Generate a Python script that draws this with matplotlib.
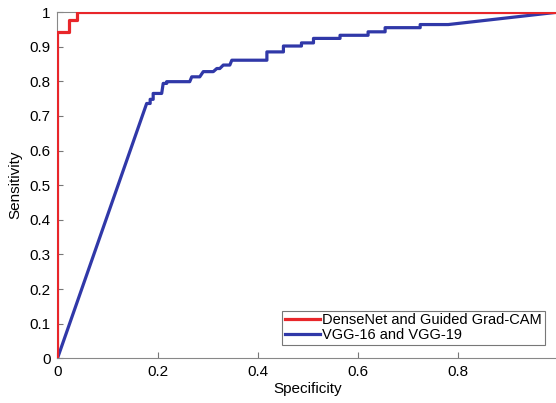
import matplotlib
matplotlib.use("Agg")
import matplotlib.pyplot as plt

plt.rcParams['font.family'] = ['Liberation Sans', 'DejaVu Sans']

# ROC vertices (specificity axis as drawn, sensitivity)
dense_x = [0, 0, 0.0236, 0.0236, 0.0395, 0.0395, 1.0]
dense_y = [0, 0.943, 0.943, 0.977, 0.977, 1.0, 1.0]

vgg_x = [0, 0.178, 0.185, 0.185, 0.191, 0.191, 0.208, 0.211, 0.218, 0.218,
         0.264, 0.268, 0.284, 0.291, 0.311, 0.318, 0.324, 0.331, 0.344, 0.348,
         0.418, 0.418, 0.451, 0.451, 0.487, 0.487, 0.511, 0.511, 0.564, 0.564,
         0.620, 0.620, 0.654, 0.654, 0.724, 0.724, 0.780, 1.0]
vgg_y = [0, 0.736, 0.736, 0.748, 0.748, 0.765, 0.765, 0.794, 0.794, 0.799,
         0.799, 0.813, 0.813, 0.828, 0.828, 0.837, 0.837, 0.847, 0.847, 0.861,
         0.861, 0.885, 0.885, 0.902, 0.902, 0.911, 0.911, 0.924, 0.924, 0.933,
         0.933, 0.943, 0.943, 0.955, 0.955, 0.964, 0.964, 1.0]

labels = ['DenseNet and Guided Grad-CAM', 'VGG-16 and VGG-19']
xticks = [0, 0.2, 0.4, 0.6, 0.8]
xtick_labels = ['0', '0.2', '0.4', '0.6', '0.8']
yticks = [0, 0.1, 0.2, 0.3, 0.4, 0.5, 0.6, 0.7, 0.8, 0.9, 1]
ytick_labels = ['0', '0.1', '0.2', '0.3', '0.4', '0.5', '0.6', '0.7', '0.8', '0.9', '1']

fig = plt.figure(figsize=(5.56, 4.03), dpi=100)
ax = fig.add_axes([0.1034, 0.111, 0.901, 0.859])

ax.plot(dense_x, dense_y, color='#e8262a', lw=2.3, label=labels[0], zorder=3)
ax.plot(vgg_x, vgg_y, color='#3038a8', lw=2.3, label=labels[1], zorder=2)

ax.set_xlim(0, 1)
ax.set_ylim(0, 1)
ax.set_xticks(xticks)
ax.set_xticklabels(xtick_labels)
ax.set_yticks(yticks)
ax.set_yticklabels(ytick_labels)
ax.tick_params(direction='in', length=4, color='#777777', labelsize=11, pad=5)

for s in ['left', 'bottom', 'top']:
    ax.spines[s].set_color('#888888')
    ax.spines[s].set_linewidth(0.8)
ax.spines['right'].set_visible(False)

ax.set_xlabel('Specificity', fontsize=11, labelpad=2)
ax.set_ylabel('Sensitivity', fontsize=11, labelpad=5)

leg = ax.legend(loc='lower right', bbox_to_anchor=(0.973, 0.038), borderaxespad=0,
                fontsize=10.5, handlelength=2.4, handletextpad=0.15, labelspacing=0.05,
                borderpad=0.2, fancybox=False, framealpha=1)
leg.get_frame().set_edgecolor('#777777')
leg.get_frame().set_linewidth(0.8)

fig.savefig('out.png', dpi=100)
